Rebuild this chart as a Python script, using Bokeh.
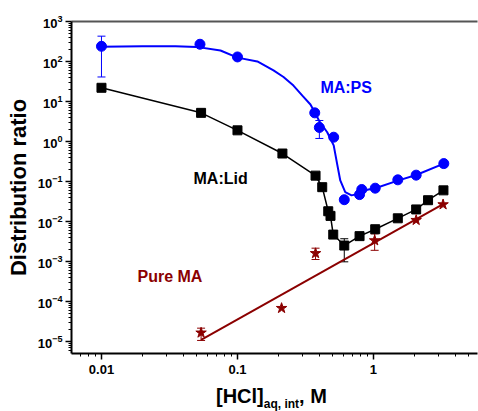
from bokeh.plotting import figure
from bokeh.layouts import column
from bokeh.models import (Label, LogAxis, FixedTicker, CustomJSTickFormatter, LogTickFormatter,
                          Whisker, TeeHead, ColumnDataSource, Range1d, Div)
from bokeh.embed import file_html
from bokeh.resources import INLINE

FONT = "Liberation Sans"
BLUE = "#0000FF"
BLACK = "#000000"
DRED = "#8B0000"

# ---- MA:PS (blue circles) ----
ps_x = [0.01, 0.053, 0.1, 0.37, 0.40, 0.51, 0.61, 0.79, 0.82, 1.03, 1.51, 2.06, 3.29]
ps_y = [240, 270, 130, 5.2, 2.24, 1.28, 0.035, 0.047, 0.063, 0.068, 0.11, 0.144, 0.28]
# fitted curve
ps_fit_x = [0.01, 0.02, 0.035, 0.05, 0.075, 0.1, 0.14, 0.184, 0.218, 0.258, 0.30, 0.344,
            0.37, 0.40, 0.457, 0.51, 0.54, 0.57, 0.62, 0.69, 0.79, 0.9, 1.03, 1.51, 2.06, 3.29]
ps_fit_y = [235, 240, 240, 232, 188, 125, 100, 60, 41, 25, 14, 8.4,
            5.4, 3.2, 1.7, 0.8, 0.28, 0.106, 0.054, 0.045, 0.05, 0.062, 0.068, 0.105, 0.145, 0.28]
ps_err_x = [0.01, 0.40]
ps_err_lo = [41, 1.19]
ps_err_hi = [430, 3.35]

# ---- MA:Lid (black squares) ----
lid_x = [0.01, 0.054, 0.1, 0.214, 0.375, 0.42, 0.465, 0.483, 0.506, 0.61, 0.79,
         1.03, 1.51, 2.06, 2.52, 3.27]
lid_y = [22, 5.2, 1.9, 0.5, 0.14, 0.072, 0.018, 0.0138, 0.0047, 0.0025, 0.0043,
         0.0064, 0.012, 0.020, 0.034, 0.06]
lid_err_x = [0.61]
lid_err_lo = [0.00098]
lid_err_hi = [0.0037]

# ---- Pure MA (dark red stars) ----
ma_x = [0.054, 0.211, 0.375, 1.02, 2.06, 3.25]
ma_y = [1.65e-5, 6.8e-5, 1.6e-3, 3.35e-3, 0.0108, 0.0266]
ma_fit_x = [0.054, 3.3]
ma_fit_y = [1.1e-5, 0.028]
ma_err_x = [0.054, 0.375, 1.02]
ma_err_lo = [1.06e-5, 1.12e-3, 1.9e-3]
ma_err_hi = [2.15e-5, 2.15e-3, 4.9e-3]

# ---- axes ----
x_ticks = [0.01, 0.1, 1]
x_tick_labels = ["0.01", "0.1", "1"]
y_exponents = [-5, -4, -3, -2, -1, 0, 1, 2, 3]
X_RANGE = (0.00602, 5.82)
Y_RANGE = (5.0e-6, 1000)

x_minor = [m * 10.0 ** e for e in range(-3, 1) for m in range(2, 10)]
y_ticks = [10.0 ** e for e in y_exponents]
y_minor = [m * 10.0 ** e for e in range(-6, 3) for m in range(2, 10)]

p = figure(width=478, height=385, x_axis_type="log", y_axis_type="log",
           x_range=Range1d(*X_RANGE), y_range=Range1d(*Y_RANGE),
           output_backend="svg", toolbar_location=None,
           min_border_left=71, min_border_right=1, min_border_top=21,
           min_border_bottom=32)
p.outline_line_color = None
p.xgrid.visible = False
p.ygrid.visible = False
p.background_fill_color = "white"
p.border_fill_color = "white"

# bottom axis
xa = p.xaxis[0]
xa.ticker = FixedTicker(ticks=x_ticks, minor_ticks=x_minor)
xa.major_label_overrides = dict(zip(x_ticks, x_tick_labels))
xa.major_label_text_font = FONT
xa.major_label_text_font_size = "13px"
xa.major_label_text_font_style = "bold"
xa.major_label_text_color = BLACK
xa.major_label_standoff = 5
xa.axis_line_width = 2
xa.axis_line_color = BLACK
xa.major_tick_out = 6
xa.major_tick_in = 0
xa.minor_tick_out = 3
xa.minor_tick_in = 0
xa.major_tick_line_width = 1.5
xa.minor_tick_line_width = 1

# left axis
ya = p.yaxis[0]
ya.ticker = FixedTicker(ticks=y_ticks, minor_ticks=y_minor)
ya.formatter = LogTickFormatter()
ya.major_label_text_font = FONT
ya.major_label_text_font_size = "13px"
ya.major_label_text_font_style = "bold"
ya.major_label_text_color = BLACK
ya.major_label_standoff = 3
ya.axis_line_width = 2
ya.axis_line_color = BLACK
ya.major_tick_out = 6
ya.major_tick_in = 0
ya.minor_tick_out = 3
ya.minor_tick_in = 0
ya.major_tick_line_width = 1.5
ya.minor_tick_line_width = 1
ya.axis_label = "Distribution ratio"
ya.axis_label_text_font = FONT
ya.axis_label_text_font_size = "22px"
ya.axis_label_text_font_style = "bold"
ya.axis_label_text_color = BLACK
ya.axis_label_standoff = 4

# top spine
top = LogAxis(ticker=FixedTicker(ticks=[]),
              formatter=CustomJSTickFormatter(code="return ''"),
              axis_line_color="#555555", axis_line_width=2,
              major_tick_line_color=None, minor_tick_line_color=None)
p.add_layout(top, "above")

# lines
p.line(ps_fit_x, ps_fit_y, line_color=BLUE, line_width=2)
p.line(lid_x, lid_y, line_color=BLACK, line_width=1.5)
p.line(ma_fit_x, ma_fit_y, line_color=DRED, line_width=2)

# error bars
def whisk(xs, lo, hi, color):
    src = ColumnDataSource(dict(base=xs, lower=lo, upper=hi))
    p.add_layout(Whisker(source=src, base="base", lower="lower", upper="upper",
                         line_color=color, line_width=1,
                         upper_head=TeeHead(size=8, line_color=color, line_width=1),
                         lower_head=TeeHead(size=8, line_color=color, line_width=1)))

whisk(ps_err_x, ps_err_lo, ps_err_hi, BLUE)
whisk(lid_err_x, lid_err_lo, lid_err_hi, BLACK)
whisk(ma_err_x, ma_err_lo, ma_err_hi, DRED)

# markers
p.scatter(lid_x, lid_y, marker="square", size=9, fill_color=BLACK, line_color=BLACK)
p.scatter(ps_x, ps_y, marker="circle", size=10, fill_color=BLUE, line_color=BLUE)
p.scatter(ma_x, ma_y, marker="star", size=11, fill_color=DRED, line_color=DRED)

# series labels
p.add_layout(Label(x=0.407, y=22.4, text="MA:PS", text_color=BLUE, text_font=FONT,
                   text_font_size="16px", text_font_style="bold",
                   text_baseline="alphabetic"))
p.add_layout(Label(x=0.0475, y=0.119, text="MA:Lid", text_color=BLACK, text_font=FONT,
                   text_font_size="16px", text_font_style="bold",
                   text_baseline="alphabetic"))
p.add_layout(Label(x=0.0184, y=4.2e-4, text="Pure MA", text_color=DRED, text_font=FONT,
                   text_font_size="16px", text_font_style="bold",
                   text_baseline="alphabetic"))

# x-axis title with subscript
x_title_html = (
    '<div style="font-family:\'Liberation Sans\';font-weight:bold;font-size:20px;'
    'line-height:20px;color:#000;white-space:nowrap;padding-left:216px;padding-top:1px">'
    '[HCl]<span style="font-size:12px;position:relative;top:5px">aq, int</span>, M</div>'
)
xtitle = Div(text=x_title_html, width=478, height=26, margin=(0, 0, 0, 0))

layout = column(p, xtitle, spacing=0, margin=(0, 0, 0, 0))
open("out.html", "w").write(file_html(layout, INLINE))
